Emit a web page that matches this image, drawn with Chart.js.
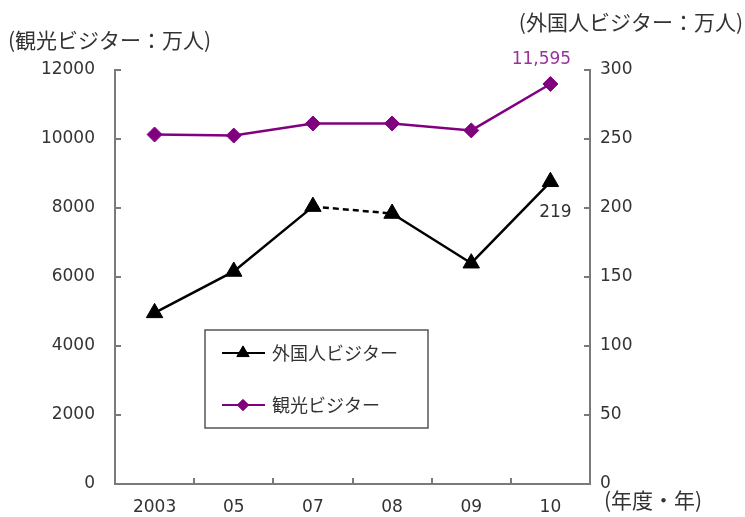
<!DOCTYPE html>
<html>
<head>
<meta charset="utf-8">
<script src="https://cdn.jsdelivr.net/npm/chart.js@4.4.1/dist/chart.umd.min.js"></script>
<style>
  html, body { margin: 0; padding: 0; background: #fff; }
  #wrap { width: 745px; height: 517px; }
</style>
</head>
<body>
<div id="wrap"><canvas id="c" width="745" height="517"></canvas></div>
<script>
// ---- data ----
const categories = ['2003', '05', '07', '08', '09', '10'];
const kankoVisitors = [10130, 10100, 10450, 10450, 10250, 11595];   // 観光ビジター (万人, left axis)
const foreignVisitors = [124, 154, 201, 196, 160, 219];            // 外国人ビジター (万人, right axis)
const leftAxis = { min: 0, max: 12000, step: 2000 };
const rightAxis = { min: 0, max: 300, step: 50 };
const seriesNames = ['外国人ビジター', '観光ビジター'];
const leftTitle = '(観光ビジター：万人)';
const rightTitle = '(外国人ビジター：万人)';
const xTitle = '(年度・年)';
const dashedFromIndex = 2; // 07 -> 08 segment dashed

const AXIS_COLOR = '#7a7a7a';
const TEXT_COLOR = '#333333';
const PURPLE = '#800080';
const TICK_FONT = { family: 'DejaVu Sans', size: 17 };
const JP_FONT = '"Noto Sans CJK JP", sans-serif';

const overlay = {
  id: 'overlay',
  afterDatasetsDraw(chart) {
    const ctx = chart.ctx;
    const x = chart.scales.x, y = chart.scales.y, y1 = chart.scales.y1;
    const area = chart.chartArea;
    ctx.save();
    // inward tick marks
    ctx.strokeStyle = AXIS_COLOR;
    ctx.lineWidth = 2;
    const tl = 6;
    y.ticks.forEach(t => {
      const py = Math.round(y.getPixelForValue(t.value));
      ctx.beginPath(); ctx.moveTo(area.left, py); ctx.lineTo(area.left + tl, py); ctx.stroke();
    });
    y1.ticks.forEach(t => {
      const py = Math.round(y1.getPixelForValue(t.value));
      ctx.beginPath(); ctx.moveTo(area.right, py); ctx.lineTo(area.right - tl, py); ctx.stroke();
    });
    for (let i = 1; i < categories.length; i++) {
      const px = Math.round((x.getPixelForValue(i - 1) + x.getPixelForValue(i)) / 2);
      ctx.beginPath(); ctx.moveTo(px, area.bottom); ctx.lineTo(px, area.bottom - tl); ctx.stroke();
    }

    // data labels
    const lastIdx = categories.length - 1;
    const pMeta = chart.getDatasetMeta(1).data[lastIdx];
    ctx.font = '17px "DejaVu Sans", sans-serif';
    ctx.fillStyle = '#993399';
    ctx.textAlign = 'center';
    ctx.textBaseline = 'middle';
    ctx.fillText(kankoVisitors[lastIdx].toLocaleString('en-US'), pMeta.x - 9, pMeta.y - 24);
    const fMeta = chart.getDatasetMeta(0).data[lastIdx];
    ctx.fillStyle = TEXT_COLOR;
    ctx.fillText(String(foreignVisitors[lastIdx]), fMeta.x + 5, fMeta.y + 31);

    // axis titles
    ctx.font = '21px ' + JP_FONT;
    ctx.fillStyle = TEXT_COLOR;
    ctx.textAlign = 'left';
    ctx.fillText(leftTitle, 8, 40);
    ctx.textAlign = 'right';
    ctx.fillText(rightTitle, 743, 22);
    ctx.textAlign = 'left';
    ctx.fillText(xTitle, 604, 500);

    // legend box
    const bx = 205, by = 330, bw = 223, bh = 98;
    ctx.fillStyle = '#ffffff';
    ctx.fillRect(bx, by, bw, bh);
    ctx.strokeStyle = '#555555';
    ctx.lineWidth = 1.5;
    ctx.strokeRect(bx, by, bw, bh);
    const rows = [{ ds: 0, y: by + 23 }, { ds: 1, y: by + 75 }];
    rows.forEach(r => {
      const d = chart.data.datasets[r.ds];
      ctx.strokeStyle = d.borderColor;
      ctx.lineWidth = 2;
      ctx.setLineDash([]);
      ctx.beginPath(); ctx.moveTo(bx + 17, r.y); ctx.lineTo(bx + 60, r.y); ctx.stroke();
      ctx.fillStyle = d.pointBackgroundColor;
      ctx.lineWidth = 1;
      Chart.helpers.drawPoint(ctx, {
        pointStyle: d.pointStyle, radius: d.pointRadius * 0.75, borderWidth: 1, rotation: 0
      }, bx + 38, r.y);
      ctx.fill();
      ctx.font = '18px ' + JP_FONT;
      ctx.fillStyle = TEXT_COLOR;
      ctx.textAlign = 'left';
      ctx.textBaseline = 'middle';
      ctx.fillText(d.label, bx + 67, r.y);
    });
    ctx.restore();
  }
};

new Chart(document.getElementById('c'), {
  type: 'line',
  data: {
    labels: categories,
    datasets: [
      {
        label: seriesNames[0],
        data: foreignVisitors,
        yAxisID: 'y1',
        borderColor: '#000000',
        backgroundColor: '#000000',
        pointBackgroundColor: '#000000',
        pointBorderColor: '#000000',
        pointStyle: 'triangle',
        pointRadius: 9.5,
        pointBorderWidth: 1,
        borderWidth: 2.5,
        tension: 0,
        segment: {
          borderDash: c => c.p0DataIndex === dashedFromIndex ? [6, 4] : undefined
        }
      },
      {
        label: seriesNames[1],
        data: kankoVisitors,
        yAxisID: 'y',
        borderColor: PURPLE,
        backgroundColor: PURPLE,
        pointBackgroundColor: PURPLE,
        pointBorderColor: PURPLE,
        pointStyle: 'rectRot',
        pointRadius: 7.5,
        pointBorderWidth: 1,
        borderWidth: 2.5,
        tension: 0
      }
    ]
  },
  options: {
    responsive: false,
    animation: false,
    layout: { padding: { top: 70, left: 0, right: 0, bottom: 0 } },
    plugins: { legend: { display: false }, tooltip: { enabled: false } },
    scales: {
      x: {
        offset: true,
        grid: { display: true, drawOnChartArea: false, drawTicks: false },
        border: { display: true, color: AXIS_COLOR, width: 2 },
        ticks: { color: TEXT_COLOR, font: TICK_FONT, padding: 13, maxRotation: 0 },
        afterFit: s => { s.height = 33; }
      },
      y: {
        position: 'left',
        min: leftAxis.min, max: leftAxis.max,
        grid: { display: true, drawOnChartArea: false, drawTicks: false },
        border: { display: true, color: AXIS_COLOR, width: 2 },
        ticks: { stepSize: leftAxis.step, color: TEXT_COLOR, font: TICK_FONT, padding: 20,
                 callback: v => String(v) },
        afterFit: s => { s.width = 115; }
      },
      y1: {
        position: 'right',
        min: rightAxis.min, max: rightAxis.max,
        grid: { display: true, drawOnChartArea: false, drawTicks: false },
        border: { display: true, color: AXIS_COLOR, width: 2 },
        ticks: { stepSize: rightAxis.step, color: TEXT_COLOR, font: TICK_FONT, padding: 10,
                 callback: v => String(v) },
        afterFit: s => { s.width = 155; }
      }
    }
  },
  plugins: [overlay]
});
</script>
</body>
</html>
